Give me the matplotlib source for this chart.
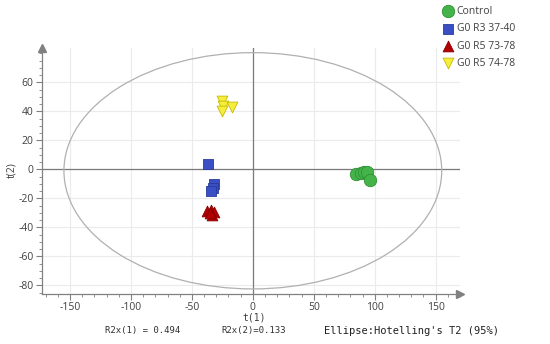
import matplotlib
matplotlib.use("Agg")
import matplotlib.pyplot as plt
from matplotlib.patches import Ellipse
from matplotlib.ticker import MultipleLocator

# Data
control_x = [85, 89, 91, 94, 96]
control_y = [-3.5, -2.5, -2, -1.5, -7.5]
r3_x = [-37, -31.5, -33, -34]
r3_y = [3.5, -10, -13, -15]
r5a_x = [-38, -34, -32, -33.5, -35]
r5a_y = [-29, -28, -29.5, -31.5, -30]
r5b_x = [-25, -24.5, -17, -25.5]
r5b_y = [47, 44, 43, 40]
labels = ["Control", "G0 R3 37-40", "G0 R5 73-78", "G0 R5 74-78"]
ellipse_w = 310
ellipse_h = 163
xticks = [-150, -100, -50, 0, 50, 100, 150]
yticks = [-80, -60, -40, -20, 0, 20, 40, 60]

plt.rcParams['font.family'] = ['Open Sans', 'DejaVu Sans']
plt.rcParams['axes.unicode_minus'] = False

fig = plt.figure(figsize=(5.5, 3.44), dpi=100)
ax = fig.add_axes([42/550, 1-294/344, (460-42)/550, (294-48)/344])
ax.set_xlim(-173, 170)
ax.set_ylim(-86, 83.7)
ax.set_axisbelow(True)

ax.set_xticks(xticks)
ax.set_yticks(yticks)
ax.xaxis.set_minor_locator(MultipleLocator(10))
ax.yaxis.set_minor_locator(MultipleLocator(5))
ax.grid(True, which='major', color='#ebebeb', lw=0.8)
ax.axhline(0, color='#7a7a7a', lw=0.9, zorder=2)
ax.axvline(0, color='#7a7a7a', lw=0.9, zorder=2)

for s in ['top', 'right']:
    ax.spines[s].set_visible(False)
for s in ['left', 'bottom']:
    ax.spines[s].set_color('#808080')
    ax.spines[s].set_linewidth(0.9)
ax.plot(1, 0, '>', color='#808080', ms=6, transform=ax.transAxes, clip_on=False)
ax.plot(0, 1, '^', color='#808080', ms=6, transform=ax.transAxes, clip_on=False)

ax.tick_params(axis='both', which='major', length=4, color='#808080',
               labelsize=7.5, labelcolor='#404040', width=0.8, pad=2)
ax.tick_params(axis='both', which='minor', length=2, color='#808080', width=0.6)

ax.add_patch(Ellipse((0, -1), ellipse_w, ellipse_h, fill=False,
                     edgecolor='#b0b0b0', lw=0.9, zorder=3))

ax.scatter(control_x, control_y, s=80, marker='o', color='#44b44a',
           edgecolor='#2f8f35', lw=0.6, zorder=5, label=labels[0])
ax.scatter(r3_x, r3_y, s=55, marker='s', color='#3a4fc4',
           edgecolor='#2a3a9a', lw=0.6, zorder=5, label=labels[1])
ax.scatter(r5a_x, r5a_y, s=60, marker='^', color='#b30000',
           edgecolor='#8a0000', lw=0.6, zorder=5, label=labels[2])
ax.scatter(r5b_x, r5b_y, s=60, marker='v', color='#f4ef3a',
           edgecolor='#c9b800', lw=0.6, zorder=5, label=labels[3])

fig.text(254/550, 1-317/344, 't(1)', ha='center', va='center',
         fontsize=7, color='#404040', family='DejaVu Sans Mono')
fig.text(12/550, 1-170/344, 't(2)', ha='center', va='center', rotation=90,
         fontsize=7.5, color='#404040')

leg = fig.legend(loc='upper left', bbox_to_anchor=(438/550, 1-2/344),
                 frameon=False, fontsize=7.5, handletextpad=0.2,
                 labelspacing=0.6, borderaxespad=0, handlelength=1.2)
for t in leg.get_texts():
    t.set_color('#404040')

fig.text(143/550, 1-331/344, 'R2x(1) = 0.494', ha='center', va='center',
         fontsize=6.5, family='DejaVu Sans Mono', color='#303030')
fig.text(254/550, 1-331/344, 'R2x(2)=0.133', ha='center', va='center',
         fontsize=6.5, family='DejaVu Sans Mono', color='#303030')
fig.text(412/550, 1-331/344, "Ellipse:Hotelling's T2 (95%)", ha='center',
         va='center', fontsize=7.5, family='DejaVu Sans Mono', color='#202020')

fig.savefig('out.png', dpi=100)
